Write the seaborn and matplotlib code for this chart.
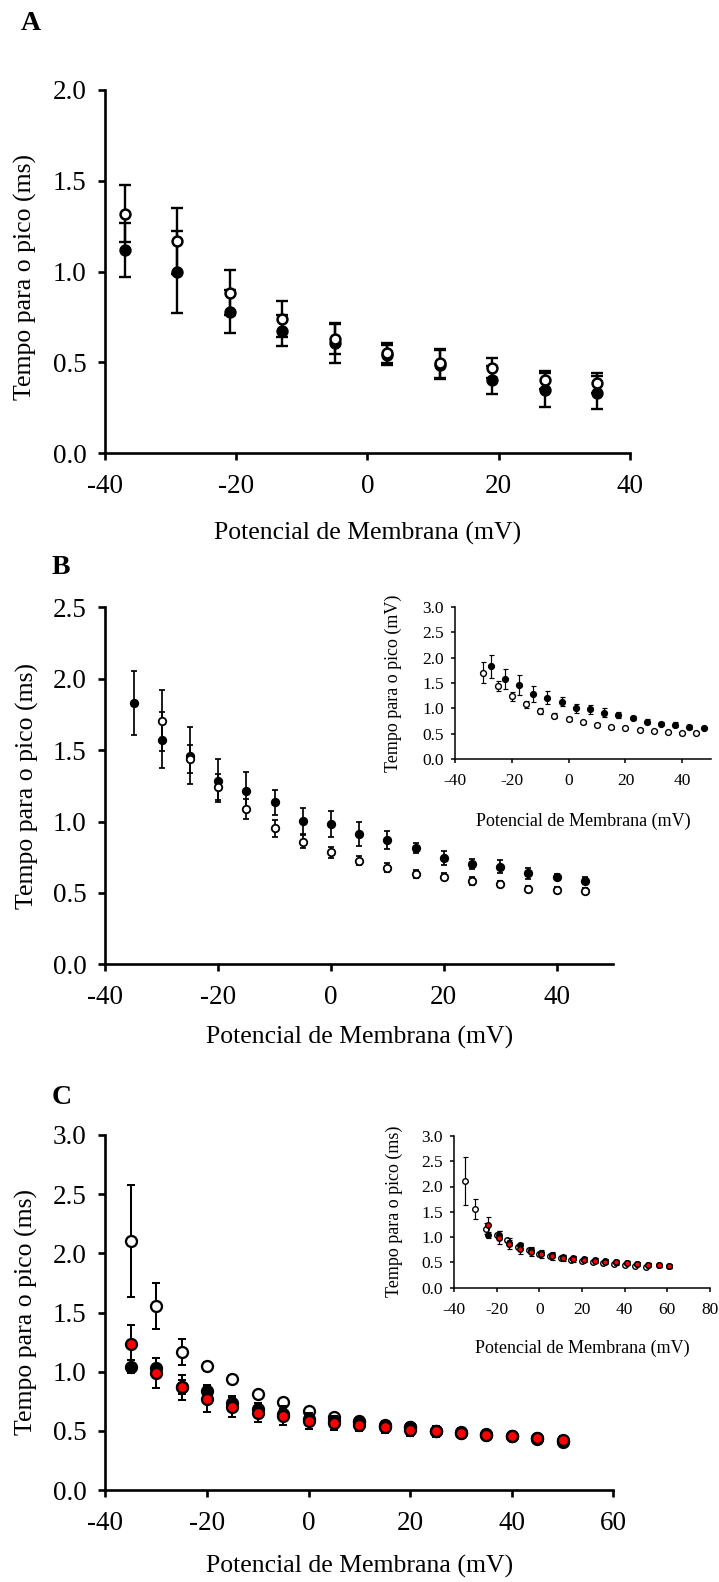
import matplotlib
matplotlib.use("Agg")
import matplotlib.pyplot as plt
import seaborn as sns
from matplotlib.ticker import FuncFormatter

sns.set_theme(style="ticks")
plt.rcParams["font.family"] = ["Liberation Serif", "DejaVu Serif"]
plt.rcParams["axes.unicode_minus"] = False

# ---------------- data ----------------
# Panel A
a_mv = [-37, -29, -21, -13, -5, 3, 11, 19, 27, 35]
a_filled = [1.12, 1.00, 0.78, 0.675, 0.605, 0.54, 0.487, 0.404, 0.348, 0.334]
a_filled_err = [0.147, 0.226, 0.12, 0.085, 0.11, 0.055, 0.08, 0.078, 0.095, 0.092]
a_open = [1.32, 1.169, 0.884, 0.738, 0.627, 0.554, 0.495, 0.468, 0.404, 0.385]
a_open_err = [0.155, 0.18, 0.125, 0.10, 0.083, 0.055, 0.078, 0.055, 0.051, 0.055]

# Panel B
b_filled_mv = [-35, -30, -25, -20, -15, -10, -5, 0, 5, 10, 15, 20, 25, 30, 35, 40, 45]
b_filled = [1.832, 1.571, 1.461, 1.286, 1.214, 1.134, 1.004, 0.982, 0.912, 0.870,
            0.812, 0.742, 0.702, 0.683, 0.637, 0.614, 0.585]
b_filled_err = [0.225, 0.198, 0.198, 0.15, 0.13, 0.085, 0.09, 0.09, 0.087, 0.065,
                0.035, 0.05, 0.035, 0.045, 0.04, 0.02, 0.025]
b_open_mv = [-30, -25, -20, -15, -10, -5, 0, 5, 10, 15, 20, 25, 30, 35, 40, 45]
b_open = [1.706, 1.436, 1.24, 1.085, 0.952, 0.859, 0.784, 0.726, 0.677, 0.632,
          0.614, 0.583, 0.562, 0.53, 0.52, 0.515]
b_open_err = [0.215, 0.097, 0.09, 0.07, 0.06, 0.047, 0.04, 0.03, 0.03, 0.03,
              0.025, 0.025, 0.02, 0.02, 0.02, 0.02]
b_inset_shift = 7.5  # mV offset applied to the filled series in the inset

# Panel C
c_mv = [-35, -30, -25, -20, -15, -10, -5, 0, 5, 10, 15, 20, 25, 30, 35, 40, 45, 50]
c_open = [2.105, 1.555, 1.164, 1.045, 0.94, 0.808, 0.742, 0.668, 0.617, 0.585,
          0.553, 0.532, 0.50, 0.48, 0.468, 0.455, 0.43, 0.405]
c_open_err = [0.475, 0.195, 0.11, 0.04, 0.03, 0.03, 0.025, 0.025, 0.02, 0.02,
              0.02, 0.02, 0.02, 0.02, 0.02, 0.02, 0.02, 0.02]
c_black = [1.043, 1.034, 0.873, 0.84, 0.733, 0.688, 0.642, 0.60, 0.58, 0.572,
           0.544, 0.53, 0.50, 0.49, 0.473, 0.454, 0.44, 0.417]
c_black_err = [0.055, 0.08, 0.06, 0.05, 0.05, 0.045, 0.04, 0.04, 0.04, 0.04,
               0.035, 0.035, 0.03, 0.03, 0.03, 0.03, 0.03, 0.03]
c_red = [1.231, 0.986, 0.868, 0.766, 0.704, 0.654, 0.628, 0.583, 0.564, 0.552,
         0.53, 0.51, 0.496, 0.482, 0.468, 0.454, 0.44, 0.425]
c_red_err = [0.165, 0.127, 0.105, 0.11, 0.09, 0.078, 0.078, 0.065, 0.06, 0.055,
             0.05, 0.05, 0.045, 0.045, 0.04, 0.04, 0.035, 0.035]
c_inset_shift = 11  # mV offset applied to the filled series in the inset

YLABEL = "Tempo para o pico (ms)"
YLABEL_MV = "Tempo para o pico (mV)"
XLABEL = "Potencial de Membrana (mV)"

# ---------------- figure ----------------
W, H = 719, 1582
fig = plt.figure(figsize=(W / 100, H / 100), dpi=100)
fig.patch.set_facecolor("white")


def rect(l, t, r, b):
    return [l / W, 1 - b / H, (r - l) / W, (b - t) / H]


def at(x, y):
    return x / W, 1 - y / H


def series(ax, x, y, err, fill, ms, mew, elw, cap, z):
    ax.errorbar(x, y, yerr=err, fmt="none", ecolor="black", elinewidth=elw,
                capsize=cap, capthick=elw, zorder=z)
    sns.scatterplot(x=x, y=y, ax=ax, s=ms ** 2, color=fill, edgecolor="black",
                    linewidth=mew, marker="o", zorder=z + 0.5, legend=False)


def style(ax, xlim, xticks, ylim, yticks, fs, lw, tlen, padx, pady):
    ax.set_facecolor("none")
    sns.despine(ax=ax)
    ax.set_xlim(*xlim)
    ax.set_ylim(*ylim)
    ax.set_xticks(xticks)
    ax.set_yticks(yticks)
    ax.xaxis.set_major_formatter(FuncFormatter(lambda v, p: f"{v:.0f}"))
    ax.yaxis.set_major_formatter(FuncFormatter(lambda v, p: f"{v:.1f}"))
    ax.tick_params(direction="out", length=tlen, width=lw, labelsize=fs,
                   colors="black")
    ax.tick_params(axis="x", pad=padx)
    ax.tick_params(axis="y", pad=pady)
    for s in ("left", "bottom"):
        ax.spines[s].set_linewidth(lw)
        ax.spines[s].set_color("black")
    ax.set_xlabel("")
    ax.set_ylabel("")
    ax.grid(False)


MAIN_FS = 19.5
LAB_FS = 18.5
IN_FS = 12.5
IN_LAB_FS = 13

# ---- Panel A ----
axA = fig.add_axes(rect(105, 90, 630, 453.3))
series(axA, a_mv, a_filled, a_filled_err, "black", 7.1, 1.8, 1.7, 4, 2)
series(axA, a_mv, a_open, a_open_err, "white", 7.1, 1.8, 1.7, 4, 4)
style(axA, (-40, 40), [-40, -20, 0, 20, 40], (0, 2.0),
      [0, 0.5, 1.0, 1.5, 2.0], MAIN_FS, 1.9, 5, 10, 8.4)

# ---- Panel B ----
axB = fig.add_axes(rect(105.3, 607.3, 613, 964.3))
series(axB, b_filled_mv, b_filled, b_filled_err, "black", 5.4, 1.3, 1.25, 2.4, 2)
series(axB, b_open_mv, b_open, b_open_err, "white", 5.4, 1.3, 1.25, 2.4, 4)
style(axB, (-40, 50), [-40, -20, 0, 20, 40], (0, 2.5),
      [0, 0.5, 1.0, 1.5, 2.0, 2.5], MAIN_FS, 1.9, 5, 10, 8.4)

axBi = fig.add_axes(rect(455, 606.7, 710.7, 759.3))
b_inset_mv = [v + b_inset_shift for v in b_filled_mv]
series(axBi, b_inset_mv, b_filled, b_filled_err, "black", 4.2, 1.0, 0.85, 1.8, 2)
series(axBi, b_open_mv, b_open, b_open_err, "white", 4.2, 1.0, 0.85, 1.8, 4)
style(axBi, (-40, 50), [-40, -20, 0, 20, 40], (0, 3.0),
      [0, 0.5, 1.0, 1.5, 2.0, 2.5, 3.0], IN_FS, 1.1, 3.2, 7, 5)

# ---- Panel C ----
axC = fig.add_axes(rect(105.3, 1135, 613.3, 1490))
series(axC, c_mv, c_open, c_open_err, "white", 7.9, 1.65, 1.45, 2.9, 2)
series(axC, c_mv, c_black, c_black_err, "black", 7.9, 1.65, 1.45, 2.9, 4)
series(axC, c_mv, c_red, c_red_err, "red", 7.9, 1.65, 1.45, 2.9, 6)
style(axC, (-40, 60), [-40, -20, 0, 20, 40, 60], (0, 3.0),
      [0, 0.5, 1.0, 1.5, 2.0, 2.5, 3.0], MAIN_FS, 1.9, 5, 10, 8.4)

axCi = fig.add_axes(rect(454, 1136, 710, 1287.5))
c_inset_mv = [v + c_inset_shift for v in c_mv]
series(axCi, c_mv, c_open, c_open_err, "white", 4.0, 1.0, 0.85, 1.8, 2)
series(axCi, c_inset_mv, c_black, c_black_err, "black", 4.0, 1.0, 0.85, 1.8, 4)
series(axCi, c_inset_mv, c_red, c_red_err, "red", 4.0, 1.0, 0.85, 1.8, 6)
style(axCi, (-40, 80), [-40, -20, 0, 20, 40, 60, 80], (0, 3.0),
      [0, 0.5, 1.0, 1.5, 2.0, 2.5, 3.0], IN_FS, 1.1, 3.2, 7, 5)

# ---- labels ----
txt = dict(color="black", ha="center", va="center")
for letter, (x, y) in {"A": (31, 23), "B": (61, 567.5), "C": (62, 1097)}.items():
    fig.text(*at(x, y), letter, fontsize=20, fontweight="bold", **txt)

fig.text(*at(25, 277), YLABEL, fontsize=LAB_FS, rotation=90, **txt)
fig.text(*at(368, 533), XLABEL, fontsize=LAB_FS, **txt)
fig.text(*at(27, 786), YLABEL, fontsize=LAB_FS, rotation=90, **txt)
fig.text(*at(360, 1037), XLABEL, fontsize=LAB_FS, **txt)
fig.text(*at(26, 1312), YLABEL, fontsize=LAB_FS, rotation=90, **txt)
fig.text(*at(360, 1566), XLABEL, fontsize=LAB_FS, **txt)

fig.text(*at(393, 683), YLABEL_MV, fontsize=IN_LAB_FS, rotation=90, **txt)
fig.text(*at(583, 821), XLABEL, fontsize=IN_LAB_FS, **txt)
fig.text(*at(394, 1211), YLABEL, fontsize=IN_LAB_FS, rotation=90, **txt)
fig.text(*at(582, 1348), XLABEL, fontsize=IN_LAB_FS, **txt)

fig.savefig("out.png", dpi=100, facecolor="white")
